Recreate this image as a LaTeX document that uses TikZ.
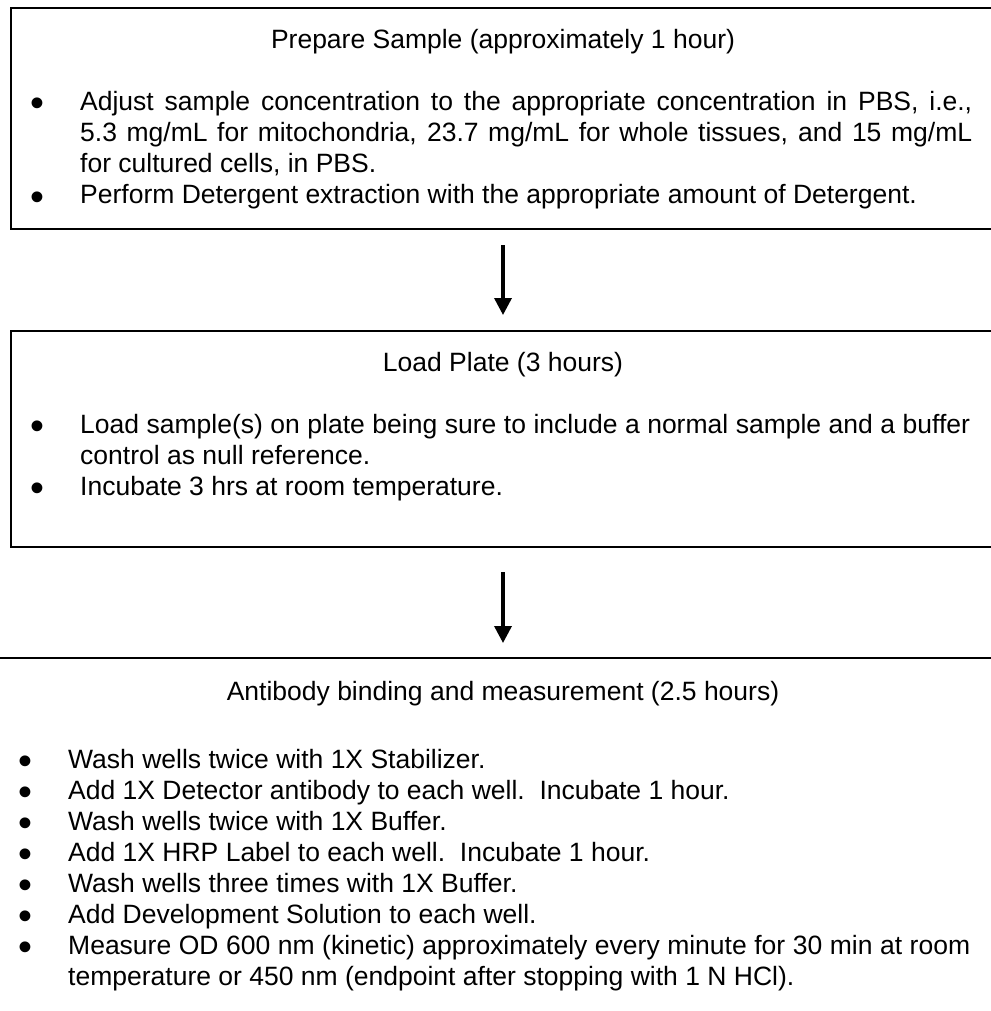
\documentclass[tikz,border=0pt]{standalone}
\usepackage{fontspec}
\setmainfont{Liberation Sans}
\usetikzlibrary{arrows.meta}
\newcommand{\bulletmark}{\scalebox{1.5}{•}}
\begin{document}
\begin{tikzpicture}[x=1pt,y=-1pt,
  box/.style={draw=black, line width=2pt, minimum width=984pt, inner sep=0pt, anchor=north},
  txt/.style={anchor=base west, inner sep=0pt, font=\fontsize{26.5}{31}\selectfont},
  head/.style={anchor=base, inner sep=0pt, font=\fontsize{26.5}{31}\selectfont},
  bul/.style={anchor=base, inner sep=0pt, font=\fontsize{26.5}{26.5}\selectfont},
  flow/.style={line width=3.5pt, -{Triangle[width=17pt,length=17pt]}}
]
\useasboundingbox (0,0) rectangle (990,1011);
% boxes
\node[box, minimum height=221pt] (b1) at (503,7) {};
\node[box, minimum height=216pt] (b2) at (503,330) {};
\node[box, minimum width=1030pt, minimum height=400pt] (b3) at (503,657) {};
% connectors
\draw[flow, shorten <=15pt, shorten >=15pt] (b1) -- (b2);
\draw[flow, shorten <=24pt, shorten >=14pt] (b2) -- (b3);
% box 1
\node[head] (h1) at (503,49) {Prepare Sample (approximately 1 hour)};
\node[bul] (p1) at (37,117) {\bulletmark};
\node[txt] (t11) at (80,111) {\makebox[892pt][s]{Adjust sample concentration to the appropriate concentration in PBS, i.e.,}};
\node[txt] (t12) at (80,142) {\makebox[892pt][s]{5.3 mg/mL for mitochondria, 23.7 mg/mL for whole tissues, and 15 mg/mL}};
\node[txt] (t13) at (80,173) {for cultured cells, in PBS.};
\node[bul] (p2) at (37,210) {\bulletmark};
\node[txt] (t14) at (80,204) {Perform Detergent extraction with the appropriate amount of Detergent.};
% box 2
\node[head] (h2) at (503,371) {Load Plate (3 hours)};
\node[bul] (p3) at (37,439) {\bulletmark};
\node[txt] (t21) at (80,433) {\makebox[890pt][s]{Load sample(s) on plate being sure to include a normal sample and a buffer}};
\node[txt] (t22) at (80,464) {control as null reference.};
\node[bul] (p4) at (37,501) {\bulletmark};
\node[txt] (t23) at (80,495) {Incubate 3 hrs at room temperature.};
% box 3
\node[head] (h3) at (503,700) {Antibody binding and measurement (2.5 hours)};
\node[bul] (p5) at (25,774) {\bulletmark};
\node[txt] (t31) at (68,768) {Wash wells twice with 1X Stabilizer.};
\node[bul] (p6) at (25,805) {\bulletmark};
\node[txt] (t32) at (68,799) {Add 1X Detector antibody to each well.\ \ Incubate 1 hour.};
\node[bul] (p7) at (25,836) {\bulletmark};
\node[txt] (t33) at (68,830) {Wash wells twice with 1X Buffer.};
\node[bul] (p8) at (25,867) {\bulletmark};
\node[txt] (t34) at (68,861) {Add 1X HRP Label to each well.\ \ Incubate 1 hour.};
\node[bul] (p9) at (25,898) {\bulletmark};
\node[txt] (t35) at (68,892) {Wash wells three times with 1X Buffer.};
\node[bul] (p10) at (25,929) {\bulletmark};
\node[txt] (t36) at (68,923) {Add Development Solution to each well.};
\node[bul] (p11) at (25,960) {\bulletmark};
\node[txt] (t37) at (68,954) {\makebox[902pt][s]{Measure OD 600 nm (kinetic) approximately every minute for 30 min at room}};
\node[txt] (t38) at (68,985) {temperature or 450 nm (endpoint after stopping with 1 N HCl).};
\end{tikzpicture}
\end{document}
